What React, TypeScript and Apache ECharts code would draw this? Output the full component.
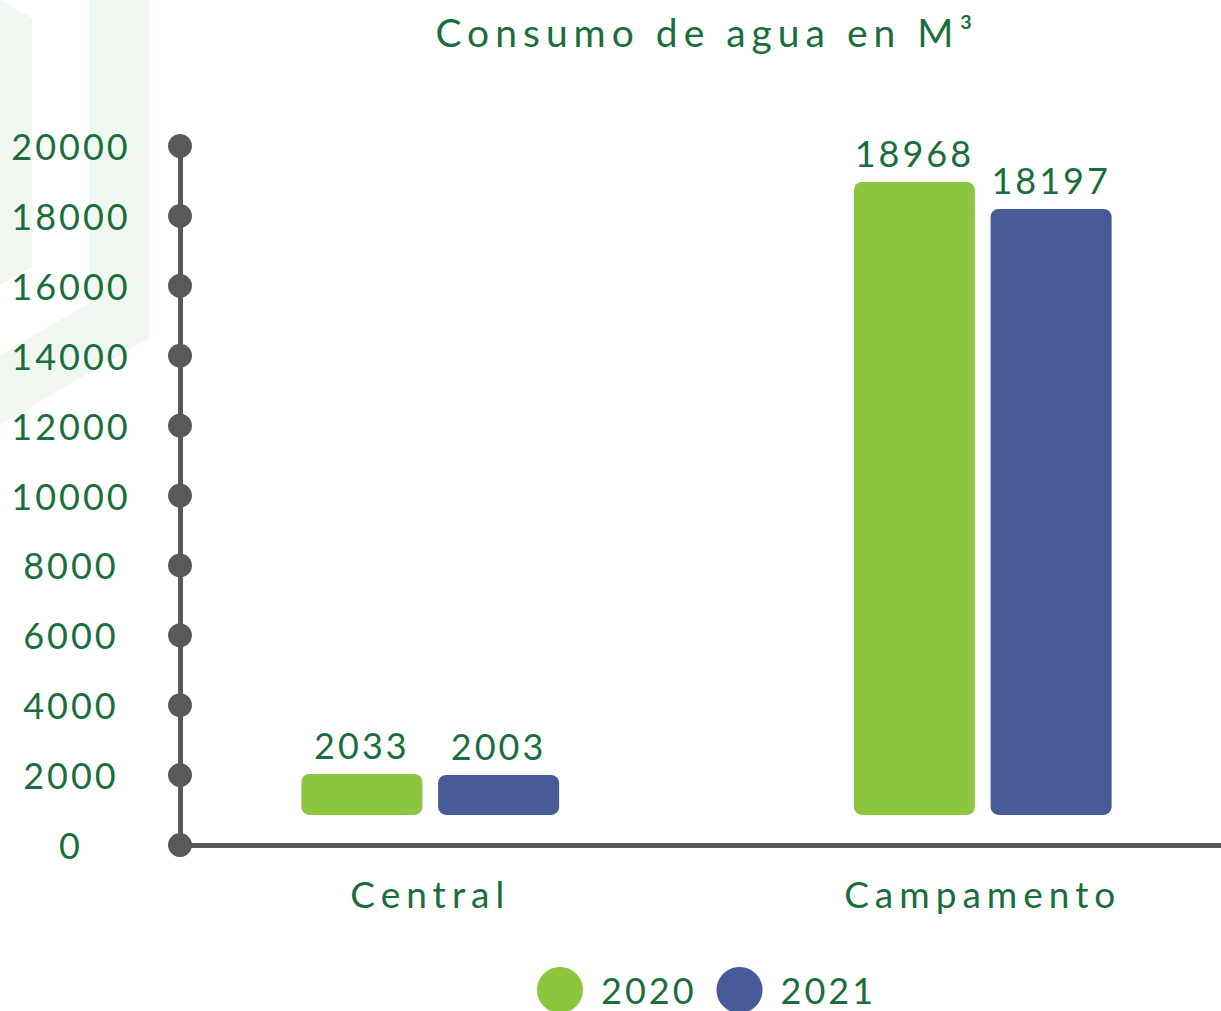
import React, { useEffect, useRef } from 'react';
import * as echarts from 'echarts';

const categories = ['Central', 'Campamento'];
const values2020 = [2033, 18968];
const values2021 = [2003, 18197];
const seriesNames = ['2020', '2021'];
const yTicks = [0, 2000, 4000, 6000, 8000, 10000, 12000, 14000, 16000, 18000, 20000];
const titleText = 'Consumo de agua en M³';

const barBase = 860;
const GREEN_TEXT = '#1a6e3c';
const GRAY = '#58595b';
const BAR_GREEN = '#8cc63f';
const BAR_BLUE = '#455a97';
const BG_SHAPE = '#f0f7f0';
const FONT = 'Lato';

export default function App() {
  const ref = useRef<HTMLDivElement>(null);
  useEffect(() => {
    const chart = echarts.init(ref.current!, null, { renderer: 'svg' });
    const labelStyle = { color: GREEN_TEXT, fontFamily: FONT, fontSize: 36 };
    const makeBars = (name: string, values: number[], color: string, stack: string) => [
      {
        name: 'base' + name,
        type: 'bar',
        stack,
        xAxisIndex: 1,
        yAxisIndex: 1,
        barWidth: 121,
        barGap: '13%',
        silent: true,
        itemStyle: { color: 'rgba(0,0,0,0)' },
        data: values.map(() => barBase),
      },
      {
        name,
        type: 'bar',
        stack,
        xAxisIndex: 1,
        yAxisIndex: 1,
        barWidth: 121,
        barGap: '13%',
        itemStyle: { color, borderRadius: 8 },
        label: {
          show: true,
          position: 'top',
          distance: 11,
          ...labelStyle,
          formatter: (p: any) => String(values[p.dataIndex]),
        },
        data: values.map((v) => v - barBase),
      },
    ];
    const option: any = {
      animation: false,
      backgroundColor: '#ffffff',
      textStyle: { fontFamily: FONT },
      graphic: [
        {
          type: 'polygon',
          z: -10,
          silent: true,
          shape: { points: [[0, 0], [32, 18], [32, 267], [0, 285]] },
          style: { fill: BG_SHAPE },
        },
        {
          type: 'polygon',
          z: -10,
          silent: true,
          shape: { points: [[89, 0], [149, 0], [149, 338], [0, 425], [0, 355], [89, 303]] },
          style: { fill: BG_SHAPE },
        },
        {
          type: 'text',
          x: 707,
          y: 32,
          silent: true,
          style: {
            text: titleText,
            fill: GREEN_TEXT,
            fontFamily: FONT,
            fontSize: 39,
            textAlign: 'center',
            textVerticalAlign: 'middle',
          },
        },
      ],
      legend: {
        data: seriesNames,
        left: 532,
        top: 962,
        itemWidth: 46,
        itemHeight: 46,
        itemGap: 32,
        icon: 'circle',
        textStyle: { ...labelStyle, padding: [0, 0, 0, 13] },
      },
      grid: [
        { left: 180, right: 0, top: 146, bottom: 166, outerBoundsMode: 'none' },
        { left: 154, width: 1105, top: 146, bottom: 166, outerBoundsMode: 'none' },
      ],
      xAxis: [
        {
          type: 'value',
          gridIndex: 0,
          min: 0,
          max: 1,
          axisLine: { show: true, lineStyle: { color: GRAY, width: 5 } },
          axisTick: { show: false },
          axisLabel: { show: false },
          splitLine: { show: false },
        },
        {
          type: 'category',
          gridIndex: 1,
          data: categories,
          axisLine: { show: false },
          axisTick: { show: false },
          axisLabel: { color: GREEN_TEXT, fontFamily: FONT, fontSize: 37, margin: 30 },
        },
      ],
      yAxis: [
        {
          type: 'value',
          gridIndex: 0,
          min: 0,
          max: 20000,
          interval: 2000,
          axisLine: { show: true, lineStyle: { color: GRAY, width: 5 } },
          axisTick: { show: false },
          splitLine: { show: false },
          axisLabel: { ...labelStyle, align: 'center', margin: 109, formatter: (v: number) => String(v) },
        },
        {
          type: 'value',
          gridIndex: 1,
          min: 0,
          max: 20000,
          show: false,
          splitLine: { show: false },
        },
      ],
      series: [
        {
          name: 'ticks',
          type: 'scatter',
          xAxisIndex: 0,
          yAxisIndex: 0,
          symbolSize: 24,
          clip: false,
          silent: true,
          z: 5,
          itemStyle: { color: GRAY, opacity: 1 },
          data: yTicks.map((t) => [0, t]),
        },
        ...makeBars('2020', values2020, BAR_GREEN, 'a'),
        ...makeBars('2021', values2021, BAR_BLUE, 'b'),
      ],
    };
    chart.setOption(option);
    return () => chart.dispose();
  }, []);
  return (
    <div>
      <style>{`body{margin:0} #chartwrap text{letter-spacing:6px} #chartwrap text[style*="36px"]{letter-spacing:3px}`}</style>
      <div id="chartwrap" ref={ref} style={{ width: 1221, height: 1011 }} />
    </div>
  );
}
